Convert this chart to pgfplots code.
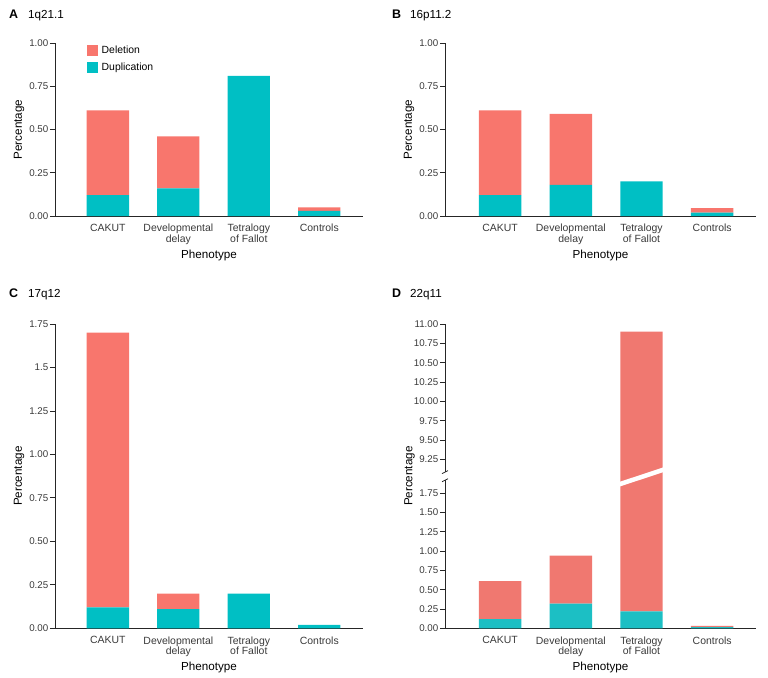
\documentclass[border=0pt]{standalone}
\usepackage{pgfplots}
\pgfplotsset{compat=1.18}
\usepackage{fontspec}
\setmainfont{Liberation Sans}
\definecolor{del}{HTML}{F8766D}
\definecolor{dup}{HTML}{00BFC4}
\definecolor{delD}{HTML}{F07870}
\definecolor{dupD}{HTML}{1CBFC4}
\definecolor{ticktext}{HTML}{3A3A3A}
\pgfplotsset{
  panel/.style={
    scale only axis,
    axis x line=bottom, axis y line=left,
    axis line style={-, line width=0.8bp, black!85},
    ybar stacked, bar width=0.6,
    xtick={0,1,2,3},
    xticklabels={CAKUT,{Developmental\\delay},{Tetralogy\\of Fallot},Controls},
    x tick style={draw=none},
    xticklabel style={align=center, font=\fontsize{10.5}{10.7}\selectfont, inner sep=1bp, yshift=-2bp, text=ticktext},
    yticklabel style={font=\fontsize{9.8}{11}\selectfont, inner sep=1.5bp, text=ticktext},
    y tick style={line width=0.8bp, black!85},
    tick align=outside, major tick length=5bp,
    /pgf/number format/assume math mode=true,
    xlabel={Phenotype}, ylabel={Percentage},
    label style={font=\fontsize{11.7}{13}\selectfont},
    xlabel style={yshift=-1bp},
    ymin=0,
    every axis plot/.append style={draw=none},
  },
}
\begin{document}
\begin{tikzpicture}
\useasboundingbox (0bp,0bp) rectangle (768bp,-678bp);
\tikzset{ptitle/.style={anchor=base west, font=\fontsize{11.7}{13}\selectfont, inner sep=0pt},
  pletter/.style={anchor=base west, font=\fontsize{12.5}{13}\selectfont\bfseries, inner sep=0pt}}
% Panel titles
\node[pletter] at (9bp,-18bp) {A};
\node[ptitle] at (28bp,-18bp) {1q21.1};
\node[pletter] at (392bp,-18bp) {B};
\node[ptitle] at (410bp,-18bp) {16p11.2};
\node[pletter] at (9bp,-297bp) {C};
\node[ptitle] at (28bp,-297bp) {17q12};
\node[pletter] at (392bp,-297bp) {D};
\node[ptitle] at (410bp,-297bp) {22q11};

% Panel A
\begin{axis}[panel, at={(55bp,-216bp)}, anchor=south west, width=308bp, height=173bp,
  xmin=-0.75, xmax=3.62, ymax=1,
  ytick={0,0.25,0.5,0.75,1}, yticklabels={0.00,0.25,0.50,0.75,1.00},
  legend style={draw=none, fill=none, at={(0.104,0.99)}, anchor=north west,
    font=\fontsize{10.45}{12}\selectfont, row sep=4.5bp, inner sep=0pt,
    nodes={inner sep=1.5bp}},
  legend cell align=left,
  legend image code/.code={\fill[#1] (0bp,-5.5bp) rectangle (11bp,5.5bp);},
  legend style={/tikz/every odd column/.append style={column sep=2bp}}]
\addlegendimage{fill=del, draw=none}\addlegendentry{Deletion}
\addlegendimage{fill=dup, draw=none}\addlegendentry{Duplication}
\addplot[fill=dup, forget plot] coordinates {(0,0.12) (1,0.16) (2,0.81) (3,0.03)};
\addplot[fill=del, forget plot] coordinates {(0,0.49) (1,0.30) (2,0) (3,0.02)};
\end{axis}

% Panel B
\begin{axis}[panel, at={(445bp,-216bp)}, anchor=south west, width=311bp, height=173bp,
  xmin=-0.78, xmax=3.62, ymax=1,
  ytick={0,0.25,0.5,0.75,1}, yticklabels={0.00,0.25,0.50,0.75,1.00}]
\addplot[fill=dup] coordinates {(0,0.12) (1,0.18) (2,0.20) (3,0.02)};
\addplot[fill=del] coordinates {(0,0.49) (1,0.41) (2,0) (3,0.025)};
\end{axis}

% Panel C
\begin{axis}[panel, at={(55bp,-628.3bp)}, anchor=south west, width=308bp, height=304.3bp,
  xmin=-0.75, xmax=3.62, ymax=1.75,
  ytick={0,0.25,0.5,0.75,1,1.25,1.5,1.75},
  yticklabels={0.00,0.25,0.50,0.75,1.00,1.25,1.5,1.75}]
\addplot[fill=dup] coordinates {(0,0.12) (1,0.11) (2,0.20) (3,0.02)};
\addplot[fill=del] coordinates {(0,1.58) (1,0.09) (2,0) (3,0)};
\end{axis}

% Panel D (broken y axis: values above the break are shifted down by 7.065)
\begin{axis}[panel, at={(445bp,-628.3bp)}, anchor=south west, width=311bp, height=304.3bp,
  xmin=-0.78, xmax=3.62, ymax=3.935, clip=false,
  ylabel style={yshift=-6bp},
  ytick={0,0.25,0.5,0.75,1,1.25,1.5,1.75,2.185,2.435,2.685,2.935,3.185,3.435,3.685,3.935},
  yticklabels={0.00,0.25,0.50,0.75,1.00,1.25,1.50,1.75,9.25,9.50,9.75,10.00,10.25,10.50,10.75,11.00}]
\addplot[fill=dupD] coordinates {(0,0.12) (1,0.32) (2,0.22) (3,0.015)};
\addplot[fill=delD] coordinates {(0,0.49) (1,0.62) (2,3.615) (3,0.015)};
\coordinate (bandL) at (axis cs:1.68,1.86);
\coordinate (bandR) at (axis cs:2.32,2.054);
\coordinate (gapLo) at (axis cs:-0.78,1.915);
\coordinate (gapHi) at (axis cs:-0.78,2.02);
\end{axis}
\draw[white, line width=4.5bp] (bandL) -- (bandR);
\fill[white] ([xshift=-2bp]gapLo) rectangle ([xshift=2bp]gapHi);
\draw[line width=0.8bp, black!85] ([xshift=-3bp,yshift=-1.5bp]gapLo) -- ([xshift=3bp,yshift=1.5bp]gapLo);
\draw[line width=0.8bp, black!85] ([xshift=-3bp,yshift=-1.5bp]gapHi) -- ([xshift=3bp,yshift=1.5bp]gapHi);
\end{tikzpicture}
\end{document}
